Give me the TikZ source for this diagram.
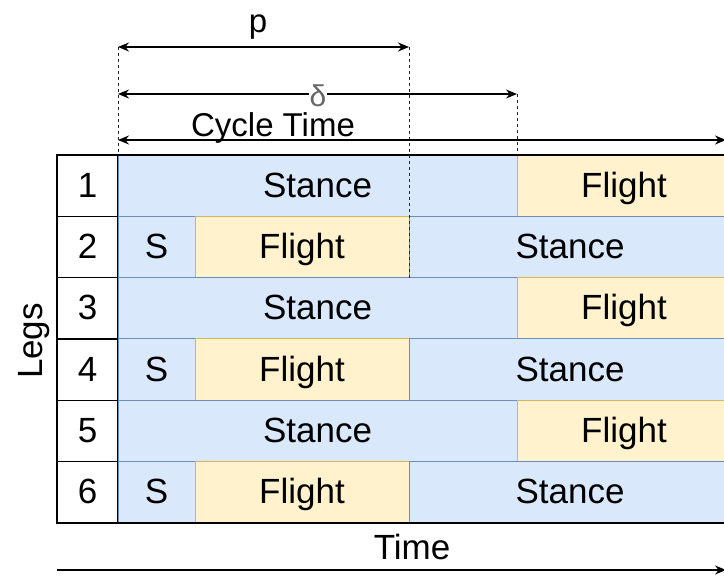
\documentclass[tikz,border=0pt]{standalone}
\usepackage{fontspec}
\setmainfont{Liberation Sans}
\usetikzlibrary{arrows.meta}

\definecolor{stancefill}{HTML}{DAE8FC}
\definecolor{stanceline}{HTML}{6C8EBF}
\definecolor{flightfill}{HTML}{FFF2CC}
\definecolor{flightline}{HTML}{D6B656}

\begin{document}
\begin{tikzpicture}[x=1pt, y=-1pt,
    txt/.style={font=\fontsize{35}{40}\selectfont, text height=28pt, text depth=5pt, inner sep=0pt},
    phase/.style={txt, minimum height=61.33, line width=1pt},
    stance/.style={phase, draw=stanceline, fill=stancefill},
    flight/.style={phase, draw=flightline, fill=flightfill},
    legno/.style={phase, draw=black, line width=1.5pt, minimum width=61},
    guide/.style={dashed, dash pattern=on 3pt off 3pt, line width=1pt, black!85},
    span/.style={line width=1.5pt, {Stealth[length=11pt,width=9pt]}-{Stealth[length=11pt,width=9pt]}}]
    \useasboundingbox (0,0) rectangle (724,577);

    % ends of the marked intervals
    \coordinate (t0) at (118,47);
    \coordinate (tp) at (409,47);
    \coordinate (d0) at (118,94);
    \coordinate (dd) at (517,94);
    \coordinate (c0) at (118,140);
    \coordinate (cc) at (726,140);

    % gait table, one row per leg
    \foreach \r in {1,...,6}{
        \pgfmathsetmacro{\yc}{155+61.33*(\r-0.5)}
        \node[legno] (leg\r) at (87.5,\yc) {\r};
        \ifodd\r
            \node[stance, minimum width=399] (st\r) at (317.5,\yc) {Stance};
            \node[flight, minimum width=214] (fl\r) at (624,\yc) {Flight};
        \else
            \node[stance, minimum width=77] (sw\r) at (156.5,\yc) {S};
            \node[flight, minimum width=214] (fl\r) at (302,\yc) {Flight};
            \node[stance, minimum width=322] (st\r) at (570,\yc) {Stance};
        \fi
    }
    \draw[line width=1.5pt] (57,155) -- (731,155);
    \draw[line width=1.5pt] (57,523) -- (731,523);

    % dashed guides
    \draw[guide] (t0) -- (118,155);
    \draw[guide] (tp) -- (409,278);
    \draw[guide] (dd) -- (517,155);

    % interval arrows
    \draw[span] (t0) -- (tp);
    \draw[span] (d0) -- (dd);
    \draw[span] (c0) -- (cc);
    \node[font=\fontsize{33}{38}\selectfont, anchor=base] (plabel) at (258,33) {p};
    \node[font=\fontsize{30}{36}\selectfont, anchor=base, fill=white, inner sep=1pt, text=black!60] (dlabel) at (318,107) {δ};
    \node[font=\fontsize{33}{38}\selectfont, anchor=base] (clabel) at (273,137) {Cycle Time};

    % axes
    \node[txt, rotate=90] (legs) at (31,341) {Legs};
    \node[txt] (time) at (412,548) {Time};
    \coordinate (a0) at (57,570);
    \coordinate (a1) at (726,570);
    \draw[line width=1.5pt, -{Stealth[length=11pt,width=9pt]}] (a0) -- (a1);
\end{tikzpicture}
\end{document}
